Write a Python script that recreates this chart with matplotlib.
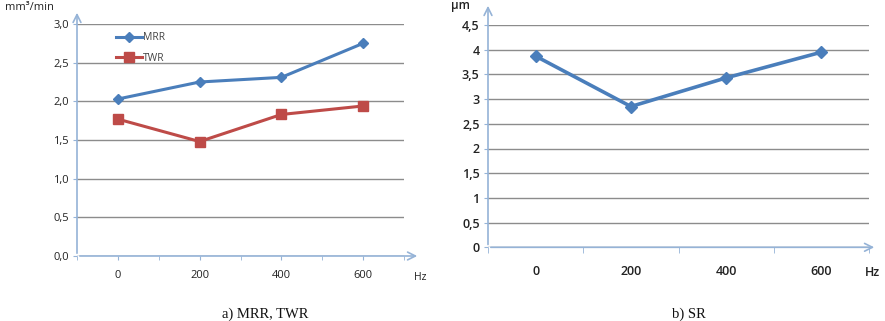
import matplotlib
matplotlib.use("Agg")
import matplotlib.pyplot as plt
import numpy as np

categories = ["0", "200", "400", "600"]
mrr = [2.03, 2.25, 2.31, 2.75]
twr = [1.77, 1.48, 1.83, 1.94]
sr = [3.87, 2.85, 3.43, 3.95]
left_yticks = [0.0, 0.5, 1.0, 1.5, 2.0, 2.5, 3.0]
left_ylabels = ["0,0", "0,5", "1,0", "1,5", "2,0", "2,5", "3,0"]
right_yticks = [0, 0.5, 1, 1.5, 2, 2.5, 3, 3.5, 4, 4.5]
right_ylabels = ["0", "0,5", "1", "1,5", "2", "2,5", "3", "3,5", "4", "4,5"]

W, H = 885, 321
fig = plt.figure(figsize=(W / 100, H / 100), dpi=100)
plt.rcParams['font.family'] = ['Open Sans', 'DejaVu Sans']

AX_COL = "#95B3D7"
GRID_COL = "#8C8C8C"
BLUE = "#4A7EBB"
RED = "#BE4B48"

def fx(px):
    return px / W

def fy(py):
    return 1 - py / H

x = np.arange(len(categories))

# ---- left chart ----
axl = fig.add_axes([fx(77), fy(256), fx(404 - 77), (256 - 24) / H])
axl.set_xlim(-0.5, 3.5)
axl.set_ylim(0, 3.0)
for s in axl.spines.values():
    s.set_visible(False)
axl.set_yticks(left_yticks)
axl.set_yticklabels(left_ylabels, fontsize=8, color="#222222")
axl.yaxis.grid(True, color=GRID_COL, lw=1)
axl.set_axisbelow(True)
axl.set_xticks(x)
axl.set_xticklabels(categories, fontsize=8, color="#222222")
axl.set_xticks(np.arange(-0.5, 3.6, 1.0), minor=True)
axl.tick_params(axis='x', which='both', length=3, color=AX_COL, pad=7)
axl.tick_params(axis='y', length=3, color=AX_COL, pad=3)
axl.annotate('', xy=(fx(420), fy(256)), xytext=(fx(77), fy(256)), xycoords='figure fraction',
             arrowprops=dict(arrowstyle='->', color=AX_COL, lw=1.2, mutation_scale=14))
axl.annotate('', xy=(fx(77), fy(10)), xytext=(fx(77), fy(256)), xycoords='figure fraction',
             arrowprops=dict(arrowstyle='->', color=AX_COL, lw=1.2, mutation_scale=14))
axl.plot(x, mrr, color=BLUE, lw=2.2, marker='D', ms=5, label="MRR")
axl.plot(x, twr, color=RED, lw=2.2, marker='s', ms=7, label="TWR")
fig.text(fx(5), fy(8), "mm³/min", fontsize=8, va='center', ha='left', color="#222222")
fig.text(fx(420), fy(277), "Hz", fontsize=7.5, va='center', ha='center', color="#222222")
# legend drawn inside plot
leg = axl.legend(loc='upper left', bbox_to_anchor=(fx(112 - 77) / fx(404 - 77), 1 - (28 - 24) / (256 - 24)),
                 frameon=False, fontsize=7.5, handlelength=2.5, handletextpad=0.1,
                 labelspacing=0.95, borderaxespad=0)
for t in leg.get_texts():
    t.set_color("#444444")
fig.text(fx(265), fy(314), "a) MRR, TWR", fontsize=10.5, ha='center', va='center',
         family='Liberation Serif', color="#111111")

# ---- right chart ----
axr = fig.add_axes([fx(488), fy(247.3), fx(869 - 488), (247.3 - 25) / H])
axr.set_xlim(-0.5, 3.5)
axr.set_ylim(0, 4.5)
for s in axr.spines.values():
    s.set_visible(False)
axr.set_yticks(right_yticks)
axr.set_yticklabels(right_ylabels, fontsize=9, color="#222222", fontweight='semibold')
axr.yaxis.grid(True, color=GRID_COL, lw=1)
axr.set_axisbelow(True)
axr.set_xticks(x)
axr.set_xticklabels(categories, fontsize=9, color="#222222", fontweight='semibold')
axr.set_xticks(np.arange(-0.5, 3.6, 1.0), minor=True)
axr.tick_params(axis='x', which='major', length=0, pad=13)
axr.tick_params(axis='x', which='minor', length=4, color=AX_COL)
axr.tick_params(axis='y', length=3, color=AX_COL, pad=3)
axr.annotate('', xy=(fx(877), fy(247.3)), xytext=(fx(488), fy(247.3)), xycoords='figure fraction',
             arrowprops=dict(arrowstyle='->', color=AX_COL, lw=1.2, mutation_scale=14))
axr.annotate('', xy=(fx(488), fy(3)), xytext=(fx(488), fy(247.3)), xycoords='figure fraction',
             arrowprops=dict(arrowstyle='->', color=AX_COL, lw=1.2, mutation_scale=14))
axr.plot(x, sr, color=BLUE, lw=2.6, marker='D', ms=6)
fig.text(fx(460), fy(5), "µm", fontsize=8.5, va='center', ha='center', color="#222222", fontweight='semibold')
fig.text(fx(872), fy(272), "Hz", fontsize=9, va='center', ha='center', color="#222222", fontweight='semibold')
fig.text(fx(689), fy(314), "b) SR", fontsize=10.5, ha='center', va='center',
         family='Liberation Serif', color="#111111")

fig.savefig("out.png", dpi=100)
